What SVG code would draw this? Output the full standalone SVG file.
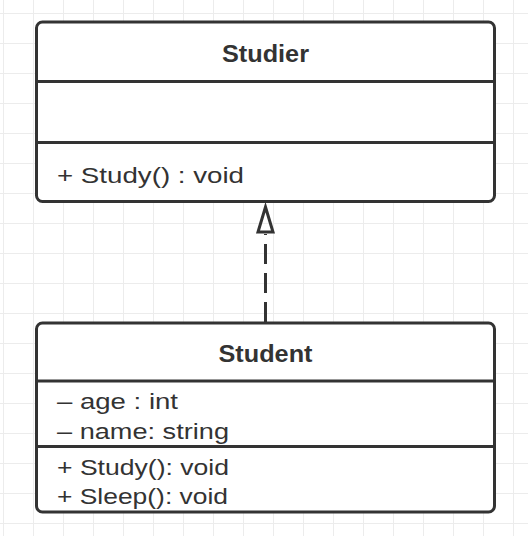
<svg xmlns="http://www.w3.org/2000/svg" width="528" height="536" viewBox="0 0 528 536">
  <defs>
    <pattern id="grid" x="3" y="13" width="30" height="30" patternUnits="userSpaceOnUse">
      <path d="M0.5 0V30M0 0.5H30" fill="none" stroke="#ececec" stroke-width="1"/>
    </pattern>
    <style>
      .box { fill: #ffffff; stroke: #333333; stroke-width: 3; }
      .div { stroke: #333333; stroke-width: 3; fill: none; }
      .title { font-family: "Liberation Sans", Arial, sans-serif; font-size: 23px; font-weight: bold; fill: #333333; }
      .item { font-family: "Liberation Sans", Arial, sans-serif; font-size: 22px; fill: #333333; }
      .edge { stroke: #333333; stroke-width: 3; fill: none; }
    </style>
  </defs>
  <rect x="0" y="0" width="528" height="536" fill="#ffffff"/>
  <rect x="0" y="0" width="528" height="536" fill="url(#grid)"/>

  <g id="connectors">
    <line class="edge" x1="265.5" y1="322" x2="265.5" y2="234" stroke-dasharray="20 9"/>
    <path class="edge" d="M265.5 207 L258 232 L273 232 Z" fill="#ffffff" stroke-linejoin="miter"/>
  </g>

  <g id="studier">
    <rect class="box" x="36.5" y="22" width="458" height="179.5" rx="6" ry="6"/>
    <line class="div" x1="36.5" y1="81.5" x2="494.5" y2="81.5"/>
    <line class="div" x1="36.5" y1="142.5" x2="494.5" y2="142.5"/>
    <text class="title" x="222" y="61.5" textLength="87" lengthAdjust="spacingAndGlyphs">Studier</text>
    <text class="item" x="57" y="182.5" textLength="187" lengthAdjust="spacingAndGlyphs">+ Study() : void</text>
  </g>

  <g id="student">
    <rect class="box" x="36.5" y="323" width="458" height="189" rx="6" ry="6"/>
    <line class="div" x1="36.5" y1="381" x2="494.5" y2="381"/>
    <line class="div" x1="36.5" y1="446.5" x2="494.5" y2="446.5"/>
    <text class="title" x="218.5" y="361.5" textLength="94" lengthAdjust="spacingAndGlyphs">Student</text>
    <text class="item" x="57" y="408.5" textLength="121" lengthAdjust="spacingAndGlyphs">– age : int</text>
    <text class="item" x="57" y="438.5" textLength="172" lengthAdjust="spacingAndGlyphs">– name: string</text>
    <text class="item" x="57" y="474.5" textLength="172" lengthAdjust="spacingAndGlyphs">+ Study(): void</text>
    <text class="item" x="57" y="504" textLength="171" lengthAdjust="spacingAndGlyphs">+ Sleep(): void</text>
  </g>
</svg>
